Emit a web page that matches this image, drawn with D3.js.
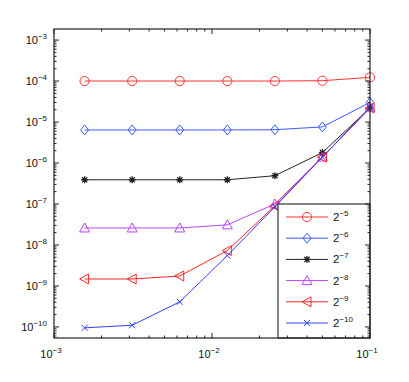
<!DOCTYPE html>
<html>
<head>
<meta charset="utf-8">
<script src="https://cdn.jsdelivr.net/npm/d3@7"></script>
<style>
  body { margin: 0; background: #fff; }
  text { font-family: "Liberation Sans", Arial, sans-serif; }
</style>
</head>
<body>
<svg></svg>
<script>
var width = 409,
    height = 382,
    margin = { top: 29, right: 39, bottom: 44, left: 54 }

// step sizes h (x axis) and error values for each series
var hValues = [0.0015625, 0.003125, 0.00625, 0.0125, 0.025, 0.05, 0.1]
var err5  = [1.0e-4, 1.0e-4, 1.0e-4, 1.0e-4, 1.0e-4, 1.02e-4, 1.23e-4]
var err6  = [6.4e-6, 6.4e-6, 6.4e-6, 6.4e-6, 6.5e-6, 7.6e-6, 3.0e-5]
var err7  = [3.9e-7, 3.9e-7, 3.9e-7, 3.9e-7, 4.9e-7, 1.8e-6, 2.2e-5]
var err8  = [2.6e-8, 2.6e-8, 2.6e-8, 3.1e-8, 1.0e-7, 1.4e-6, 2.3e-5]
var err9  = [1.48e-9, 1.48e-9, 1.75e-9, 7.3e-9, 9.0e-8, 1.4e-6, 2.2e-5]
var err10 = [9.5e-11, 1.1e-10, 4.1e-10, 5.5e-9, 8.5e-8, 1.4e-6, 2.2e-5]
var seriesNames = ["5", "6", "7", "8", "9", "10"]
var xTickExps = [-3, -2, -1]
var yTickExps = [-10, -9, -8, -7, -6, -5, -4, -3]

var series = [
    { exp: seriesNames[0], values: err5,  color: "#ff3333", marker: "circle" },
    { exp: seriesNames[1], values: err6,  color: "#3a5cff", marker: "diamond" },
    { exp: seriesNames[2], values: err7,  color: "#222222", marker: "star" },
    { exp: seriesNames[3], values: err8,  color: "#bb44ff", marker: "triangle" },
    { exp: seriesNames[4], values: err9,  color: "#ff2222", marker: "triLeft" },
    { exp: seriesNames[5], values: err10, color: "#2f3fff", marker: "cross" }
]

var iw = width - margin.left - margin.right,
    ih = height - margin.top - margin.bottom

var x = d3.scaleLog().domain([1e-3, 1e-1]).range([0, iw])
var y = d3.scaleLog().domain([Math.pow(10, -10.27), Math.pow(10, -2.73)]).range([ih, 0])

var svg = d3.select("svg").attr("width", width).attr("height", height)
var g = svg.append("g").attr("transform", "translate(" + margin.left + "," + margin.top + ")")

function drawMarker(sel, type, color) {
    var s = 4.6
    if (type == "circle") {
        sel.append("circle").attr("r", s).attr("fill", "none").attr("stroke", color)
    } else if (type == "diamond") {
        sel.append("path").attr("d", "M0,-5L4,0L0,5L-4,0Z").attr("fill", "none").attr("stroke", color)
    } else if (type == "triangle") {
        sel.append("path").attr("d", "M0,-5L5,4L-5,4Z").attr("fill", "none").attr("stroke", color)
    } else if (type == "triLeft") {
        sel.append("path").attr("d", "M-5,0L4,-5L4,5Z").attr("fill", "none").attr("stroke", color)
    } else if (type == "cross") {
        sel.append("path").attr("d", "M-3,-3L3,3M-3,3L3,-3").attr("stroke", color)
    } else if (type == "star") {
        sel.append("path").attr("d", "M-3.5,0L3.5,0M0,-3.5L0,3.5M-2.6,-2.6L2.6,2.6M-2.6,2.6L2.6,-2.6")
            .attr("stroke", color).attr("stroke-width", 1.3)
    }
}

var line = d3.line().x(function(d) { return x(d[0]) }).y(function(d) { return y(d[1]) })

series.forEach(function(s) {
    var pts = hValues.map(function(h, i) { return [h, s.values[i]] })
    g.append("path").datum(pts).attr("d", line)
        .attr("fill", "none").attr("stroke", s.color).attr("stroke-width", 1)
    g.selectAll(null).data(pts).enter().append("g")
        .attr("transform", function(d) { return "translate(" + x(d[0]) + "," + y(d[1]) + ")" })
        .each(function() { drawMarker(d3.select(this), s.marker, s.color) })
})

// legend (bottom right, white box)
var lg = g.append("g").attr("transform", "translate(" + (iw - 92) + "," + (ih - 134) + ")")
lg.append("rect").attr("width", 92).attr("height", 134).attr("fill", "#fff").attr("stroke", "#333").attr("stroke-width", 1.2)
series.forEach(function(s, i) {
    var ry = 13 + i * 21.2
    var row = lg.append("g").attr("transform", "translate(0," + ry + ")")
    row.append("line").attr("x1", 8).attr("x2", 50).attr("stroke", s.color)
    var m = row.append("g").attr("transform", "translate(29,0)")
    drawMarker(m, s.marker, s.color)
    var t = row.append("text").attr("x", 55).attr("y", 4).attr("font-size", 11.5).attr("fill", "#111")
    t.append("tspan").text("2")
    t.append("tspan").attr("dy", -5).attr("font-size", 8).text("\u2212" + s.exp)
})

// axes frame
g.append("rect").attr("width", iw).attr("height", ih).attr("fill", "none").attr("stroke", "#222").attr("stroke-width", 1.2)

// ticks (inward, on all four sides)
var minorX = [], minorY = []
for (var e = -3; e < -1; e++) for (var k = 2; k < 10; k++) minorX.push(k * Math.pow(10, e))
for (var e2 = -11; e2 < -2; e2++) for (var k2 = 2; k2 < 10; k2++) {
    var v = k2 * Math.pow(10, e2)
    if (v > y.domain()[0] && v < y.domain()[1]) minorY.push(v)
}
var ticks = g.append("g").attr("stroke", "#222").attr("stroke-width", 1)
xTickExps.forEach(function(e) {
    var px = x(Math.pow(10, e))
    ticks.append("line").attr("x1", px).attr("x2", px).attr("y1", ih).attr("y2", ih - 5)
    ticks.append("line").attr("x1", px).attr("x2", px).attr("y1", 0).attr("y2", 5)
})
minorX.forEach(function(v) {
    var px = x(v)
    ticks.append("line").attr("x1", px).attr("x2", px).attr("y1", ih).attr("y2", ih - 2.5)
    ticks.append("line").attr("x1", px).attr("x2", px).attr("y1", 0).attr("y2", 2.5)
})
yTickExps.forEach(function(e) {
    var py = y(Math.pow(10, e))
    ticks.append("line").attr("x1", 0).attr("x2", 5).attr("y1", py).attr("y2", py)
    ticks.append("line").attr("x1", iw).attr("x2", iw - 5).attr("y1", py).attr("y2", py)
})
minorY.forEach(function(v) {
    var py = y(v)
    ticks.append("line").attr("x1", 0).attr("x2", 2.5).attr("y1", py).attr("y2", py)
    ticks.append("line").attr("x1", iw).attr("x2", iw - 2.5).attr("y1", py).attr("y2", py)
})

// tick labels
xTickExps.forEach(function(e) {
    var t = g.append("text").attr("x", x(Math.pow(10, e)) - 3).attr("y", ih + 20)
        .attr("text-anchor", "middle").attr("font-size", 11).attr("fill", "#111")
    t.append("tspan").text("10")
    t.append("tspan").attr("dy", -5).attr("font-size", 8).text("\u2212" + (-e))
})
yTickExps.forEach(function(e) {
    var t = g.append("text").attr("x", -7).attr("y", y(Math.pow(10, e)) + 4)
        .attr("text-anchor", "end").attr("font-size", 11).attr("fill", "#111")
    t.append("tspan").text("10")
    t.append("tspan").attr("dy", -5).attr("font-size", 8).text("\u2212" + (-e))
})
</script>
</body>
</html>
